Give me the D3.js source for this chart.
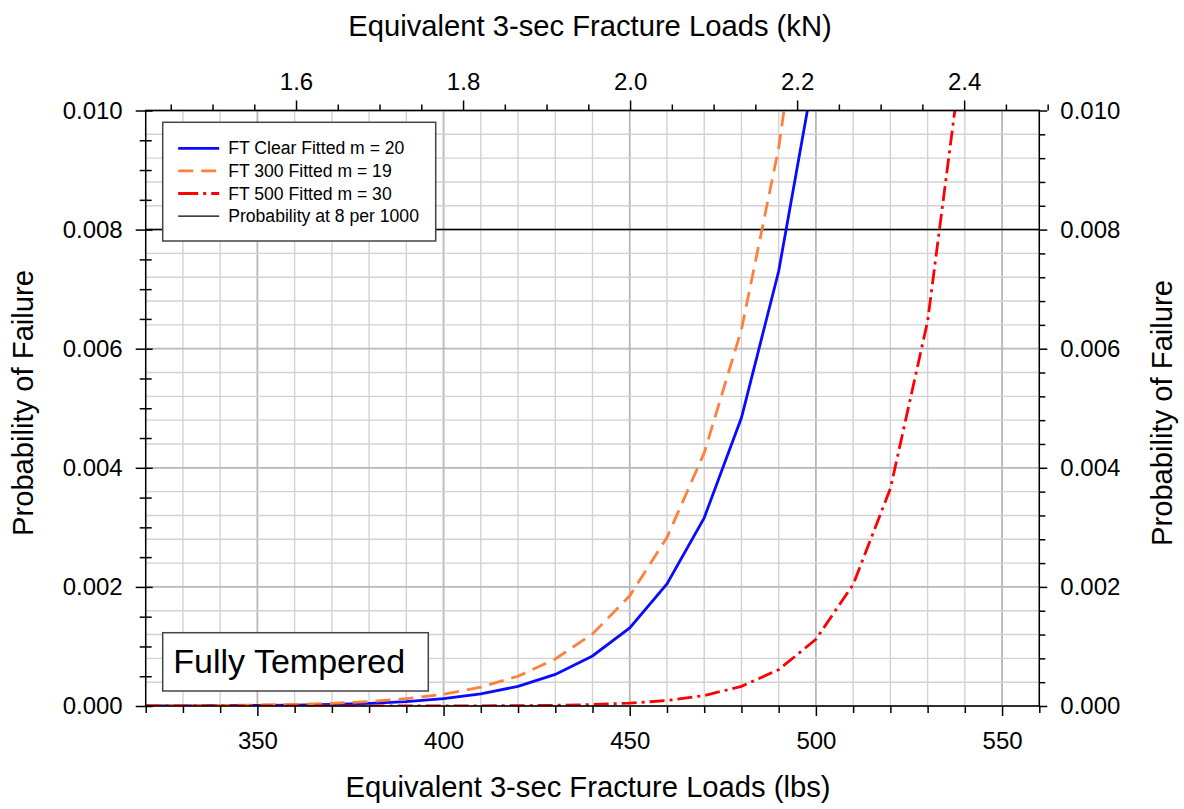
<!DOCTYPE html>
<html>
<head>
<meta charset="utf-8">
<script src="https://cdn.jsdelivr.net/npm/d3@7"></script>
<style>
  body { margin: 0; background: #fff; }
  svg { display: block; font-family: "Liberation Sans", Arial, sans-serif; }
</style>
</head>
<body>
<svg></svg>
<script>
const width = 1184;
const height = 809;
const plot = { left: 145.7, right: 1039.3, top: 110.5, bottom: 706 };

// data
const loadsLbs = [320, 330, 340, 350, 360, 370, 380, 390, 400, 410, 420, 430, 440, 450, 460, 470, 480, 490, 500];
const clearProb = [0.0000014, 0.0000027, 0.0000048, 0.0000086, 0.000015, 0.000026, 0.000045, 0.000075, 0.000125, 0.000204, 0.00033, 0.00053, 0.00084, 0.00131, 0.00205, 0.00316, 0.00484, 0.0073, 0.0108];
const ft300Prob = [0.0000029, 0.0000051, 0.0000091, 0.0000157, 0.000027, 0.000045, 0.000075, 0.000123, 0.000198, 0.000317, 0.0005, 0.00079, 0.00121, 0.00185, 0.00283, 0.00425, 0.00632, 0.00937, 0.0138];
const ft500Loads = [320, 330, 340, 350, 360, 370, 380, 390, 400, 410, 420, 430, 440, 450, 460, 470, 480, 490, 500, 510, 520, 530, 540];
const ft500Prob = [0, 0, 0, 0, 0, 0.0000001, 0.0000003, 0.0000007, 0.0000014, 0.0000029, 0.000006, 0.0000122, 0.0000243, 0.000048, 0.000092, 0.000176, 0.00033, 0.00061, 0.00112, 0.00204, 0.00365, 0.00646, 0.0113];
const refProb = 0.008;

const lbsDomain = [320, 560];
const kNDomain = [1.42, 2.49];
const probDomain = [0, 0.010];
const lbsTicks = [350, 400, 450, 500, 550];
const kNTicks = [1.6, 1.8, 2.0, 2.2, 2.4];
const probTicks = [0, 0.002, 0.004, 0.006, 0.008, 0.010];

const series = [
    { name: "FT Clear Fitted m = 20", loads: loadsLbs, probs: clearProb, color: "#0a0aff", dash: null },
    { name: "FT 300 Fitted m = 19", loads: loadsLbs, probs: ft300Prob, color: "#ff7f3f", dash: "15,8" },
    { name: "FT 500 Fitted m = 30", loads: ft500Loads, probs: ft500Prob, color: "#ff0000", dash: "15,5,3,5" },
];

const svg = d3.select("svg").attr("width", width).attr("height", height);

const x = d3.scaleLinear().domain(lbsDomain).range([plot.left, plot.right]);
const xTop = d3.scaleLinear().domain(kNDomain).range([plot.left, plot.right]);
const y = d3.scaleLinear().domain(probDomain).range([plot.bottom, plot.top]);

// grid
const vGrid = d3.range(0, 25).map(i => lbsDomain[0] + i * 10);
const hGrid = d3.range(0, 26).map(i => i * 0.0004);

const grid = svg.append("g");
grid.selectAll("line.v")
    .data(vGrid)
    .enter()
    .append("line")
    .attr("x1", d => x(d)).attr("x2", d => x(d))
    .attr("y1", plot.top).attr("y2", plot.bottom)
    .attr("stroke", d => d % 50 === 0 ? "#b8b8b8" : "#d2d2d2")
    .attr("stroke-width", d => d % 50 === 0 ? 1.8 : 1.4);

grid.selectAll("line.h")
    .data(hGrid)
    .enter()
    .append("line")
    .attr("x1", plot.left).attr("x2", plot.right)
    .attr("y1", d => y(d)).attr("y2", d => y(d))
    .attr("stroke", (d, i) => i % 5 === 0 ? "#b8b8b8" : "#d2d2d2")
    .attr("stroke-width", (d, i) => i % 5 === 0 ? 1.8 : 1.4);

// 8 per 1000 line
svg.append("line")
    .attr("x1", plot.left).attr("x2", plot.right)
    .attr("y1", y(refProb)).attr("y2", y(refProb))
    .attr("stroke", "#000")
    .attr("stroke-width", 1.5);

// curves
svg.append("defs").append("clipPath").attr("id", "plotClip")
    .append("rect")
    .attr("x", plot.left).attr("y", plot.top)
    .attr("width", plot.right - plot.left).attr("height", plot.bottom - plot.top);

const line = d3.line().x(d => x(d[0])).y(d => y(d[1]));

svg.append("g").attr("clip-path", "url(#plotClip)")
    .selectAll("path")
    .data(series)
    .enter()
    .append("path")
    .attr("d", s => line(s.loads.map((l, i) => [l, s.probs[i]])))
    .attr("fill", "none")
    .attr("stroke", s => s.color)
    .attr("stroke-width", 2.8)
    .attr("stroke-dasharray", s => s.dash);

// frame
svg.append("rect")
    .attr("x", plot.left).attr("y", plot.top)
    .attr("width", plot.right - plot.left).attr("height", plot.bottom - plot.top)
    .attr("fill", "none")
    .attr("stroke", "#000")
    .attr("stroke-width", 1.5);

// axes
const tickFont = "24px";

function styleAxis(g) {
    g.select(".domain").remove();
    g.selectAll(".tick line").attr("stroke", "#000").attr("stroke-width", 1.5);
    g.selectAll(".tick text").attr("fill", "#000").style("font-size", tickFont).style("font-family", "Liberation Sans, Arial, sans-serif");
}

const xMinor = d3.range(0, 25).map(i => lbsDomain[0] + i * 10).filter(d => d % 50 !== 0);
const kNMinor = d3.range(0, 22).map(i => +(1.45 + i * 0.05).toFixed(2)).filter(d => !kNTicks.some(t => Math.abs(t - d) < 1e-6));
const yMinorLeft = d3.range(0, 21).map(i => i * 0.0005).filter((d, i) => i % 4 !== 0);
const yMinorRight = d3.range(0, 26).map(i => i * 0.0004).filter((d, i) => i % 5 !== 0);

// bottom
svg.append("g").attr("transform", `translate(0,${plot.bottom})`)
    .call(d3.axisBottom(x).tickValues(xMinor).tickSize(7).tickFormat(""))
    .call(styleAxis);
svg.append("g").attr("transform", `translate(0,${plot.bottom})`)
    .call(d3.axisBottom(x).tickValues(lbsTicks).tickSize(10).tickPadding(16).tickFormat(d3.format("d")))
    .call(styleAxis);

// top
svg.append("g").attr("transform", `translate(0,${plot.top})`)
    .call(d3.axisTop(xTop).tickValues(kNMinor).tickSize(6).tickFormat(""))
    .call(styleAxis);
svg.append("g").attr("transform", `translate(0,${plot.top})`)
    .call(d3.axisTop(xTop).tickValues(kNTicks).tickSize(10).tickPadding(11).tickFormat(d3.format(".1f")))
    .call(styleAxis);

// left (ticks cross the axis)
svg.append("g").attr("transform", `translate(${plot.left},0)`)
    .call(d3.axisLeft(y).tickValues(yMinorLeft).tickSize(6).tickFormat(""))
    .call(styleAxis);
svg.append("g").attr("transform", `translate(${plot.left},0)`)
    .call(d3.axisLeft(y).tickValues(yMinorLeft).tickSize(-6).tickFormat(""))
    .call(styleAxis);
svg.append("g").attr("transform", `translate(${plot.left},0)`)
    .call(d3.axisLeft(y).tickValues(probTicks).tickSize(-7).tickFormat(""))
    .call(styleAxis);
svg.append("g").attr("transform", `translate(${plot.left},0)`)
    .call(d3.axisLeft(y).tickValues(probTicks).tickSize(10).tickPadding(13).tickFormat(d3.format(".3f")))
    .call(styleAxis);

// right
svg.append("g").attr("transform", `translate(${plot.right},0)`)
    .call(d3.axisRight(y).tickValues(yMinorRight).tickSize(6).tickFormat(""))
    .call(styleAxis);
svg.append("g").attr("transform", `translate(${plot.right},0)`)
    .call(d3.axisRight(y).tickValues(probTicks).tickSize(8).tickPadding(13).tickFormat(d3.format(".3f")))
    .call(styleAxis);

// axis titles
const titleFont = "29.2px";
svg.append("text")
    .attr("x", 588).attr("y", 797)
    .attr("text-anchor", "middle")
    .style("font-size", titleFont)
    .text("Equivalent 3-sec Fracture Loads (lbs)");

svg.append("text")
    .attr("x", 590).attr("y", 36)
    .attr("text-anchor", "middle")
    .style("font-size", titleFont)
    .text("Equivalent 3-sec Fracture Loads (kN)");

svg.append("text")
    .attr("transform", "translate(33,403) rotate(-90)")
    .attr("text-anchor", "middle")
    .style("font-size", titleFont)
    .text("Probability of Failure");

svg.append("text")
    .attr("transform", "translate(1172,413) rotate(-90)")
    .attr("text-anchor", "middle")
    .style("font-size", titleFont)
    .text("Probability of Failure");

// legend
const legendItems = series.map(s => ({ name: s.name, color: s.color, dash: s.dash, width: 2.8 }))
    .concat([{ name: "Probability at 8 per 1000", color: "#000", dash: null, width: 1.3 }]);

const legend = svg.append("g").attr("transform", "translate(162.7,122.3)");
legend.append("rect")
    .attr("width", 273).attr("height", 118.7)
    .attr("fill", "#fff")
    .attr("stroke", "#444")
    .attr("stroke-width", 1.5);

const legendRow = legend.selectAll("g.item")
    .data(legendItems)
    .enter()
    .append("g")
    .attr("transform", (d, i) => `translate(0,${26 + i * 22.6})`);

legendRow.append("line")
    .attr("x1", 15.5).attr("x2", 56.5)
    .attr("stroke", d => d.color)
    .attr("stroke-width", d => d.width)
    .attr("stroke-dasharray", d => d.dash === "15,5,3,5" ? "20,5,3,5" : d.dash);

legendRow.append("text")
    .attr("x", 65.5)
    .attr("dy", "0.35em")
    .style("font-size", "17.6px")
    .text(d => d.name);

// label box
const label = svg.append("g").attr("transform", "translate(162.7,632.7)");
label.append("rect")
    .attr("width", 265.6).attr("height", 58.3)
    .attr("fill", "#fff")
    .attr("stroke", "#444")
    .attr("stroke-width", 1.5);
label.append("text")
    .attr("x", 10.6).attr("y", 40.6)
    .style("font-size", "34px")
    .text("Fully Tempered");
</script>
</body>
</html>
